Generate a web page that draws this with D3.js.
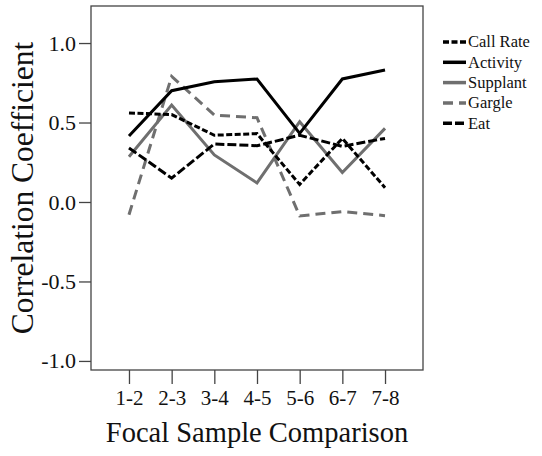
<!DOCTYPE html>
<html>
<head>
<meta charset="utf-8">
<script src="https://cdn.jsdelivr.net/npm/d3@7"></script>
<style>
  html, body { margin: 0; padding: 0; background: #fff; }
  svg { display: block; }
  svg text { font-family: "Liberation Serif", "Times New Roman", serif; }
</style>
</head>
<body>
<svg id="chart" width="542" height="456"></svg>
<script>
// focal sample comparisons
const categories = ['1-2', '2-3', '3-4', '4-5', '5-6', '6-7', '7-8'];

// correlation coefficients
const callRate = [0.56, 0.55, 0.42, 0.43, 0.11, 0.40, 0.09];
const activity = [0.415, 0.70, 0.757, 0.774, 0.432, 0.774, 0.83];
const supplant = [0.285, 0.61, 0.296, 0.12, 0.505, 0.185, 0.463];
const gargle = [-0.08, 0.79, 0.547, 0.53, -0.088, -0.06, -0.086];
const eat = [0.34, 0.15, 0.365, 0.354, 0.42, 0.35, 0.40];

const yTicks = [-1.0, -0.5, 0.0, 0.5, 1.0];

const series = [
  { name: 'Call Rate', values: callRate, color: '#000', dash: '6,2.5' },
  { name: 'Activity', values: activity, color: '#000', dash: null },
  { name: 'Supplant', values: supplant, color: '#6f6f6f', dash: null },
  { name: 'Gargle', values: gargle, color: '#6f6f6f', dash: '10,6' },
  { name: 'Eat', values: eat, color: '#000', dash: '9,3' }
];

const serif = '"Liberation Serif", "Times New Roman", serif';
const box = { left: 91, right: 423, top: 6, bottom: 370 };

const svg = d3.select('#chart');

const x = d3.scalePoint()
  .domain(categories)
  .range([box.left, box.right])
  .padding(0.89);

const y = d3.scaleLinear()
  .domain([-1.057, 1.233])
  .range([box.bottom, box.top]);

// frame
svg.append('rect')
  .attr('x', box.left)
  .attr('y', box.top)
  .attr('width', box.right - box.left)
  .attr('height', box.bottom - box.top)
  .attr('fill', 'none')
  .attr('stroke', '#444')
  .attr('stroke-width', 1.3);

// y axis
const yAxis = svg.append('g')
  .attr('transform', `translate(${box.left},0)`)
  .call(d3.axisLeft(y).tickValues(yTicks).tickSize(12).tickPadding(3));
yAxis.attr('font-family', serif);
yAxis.select('.domain').remove();
yAxis.selectAll('line').attr('stroke', '#444').attr('stroke-width', 1.3);
yAxis.selectAll('text')
  .attr('fill', '#111')
  .style('font-family', serif)
  .style('font-size', '22px')
  .text(d => d3.format('.1f')(d).replace('−', '-'));

// x axis
const xAxis = svg.append('g')
  .attr('transform', `translate(0,${box.bottom})`)
  .call(d3.axisBottom(x).tickSize(14).tickPadding(6));
xAxis.attr('font-family', serif);
xAxis.select('.domain').remove();
xAxis.selectAll('line').attr('stroke', '#444').attr('stroke-width', 1.3);
xAxis.selectAll('text')
  .attr('fill', '#111')
  .style('font-family', serif)
  .style('font-size', '21px');

// axis titles
svg.append('text')
  .attr('x', 257)
  .attr('y', 442)
  .attr('text-anchor', 'middle')
  .attr('fill', '#111')
  .style('font-family', serif)
  .style('font-size', '28.5px')
  .text('Focal Sample Comparison');

svg.append('text')
  .attr('transform', 'translate(33,188) rotate(-90)')
  .attr('text-anchor', 'middle')
  .attr('fill', '#111')
  .style('font-family', serif)
  .style('font-size', '31.5px')
  .text('Correlation Coefficient');

// lines
const line = d3.line()
  .x((d, i) => x(categories[i]))
  .y(d => y(d));

const drawOrder = ['Gargle', 'Supplant', 'Eat', 'Call Rate', 'Activity'];
drawOrder.forEach(name => {
  const s = series.find(s => s.name === name);
  svg.append('path')
    .datum(s.values)
    .attr('fill', 'none')
    .attr('stroke', s.color)
    .attr('stroke-width', 3)
    .attr('stroke-dasharray', s.dash)
    .attr('stroke-linejoin', 'miter')
    .attr('d', line);
});

// legend
const legend = svg.append('g').attr('transform', 'translate(443,42)');
series.forEach((s, i) => {
  const g = legend.append('g').attr('transform', `translate(0,${i * 20.3})`);
  g.append('line')
    .attr('x1', 0).attr('x2', 23)
    .attr('y1', 0).attr('y2', 0)
    .attr('stroke', s.color)
    .attr('stroke-width', 3.5)
    .attr('stroke-dasharray', s.dash);
  g.append('text')
    .attr('x', 25)
    .attr('y', 0)
    .attr('dy', '0.33em')
    .attr('fill', '#111')
    .style('font-family', serif)
    .style('font-size', '16.5px')
    .text(s.name);
});
</script>
</body>
</html>
